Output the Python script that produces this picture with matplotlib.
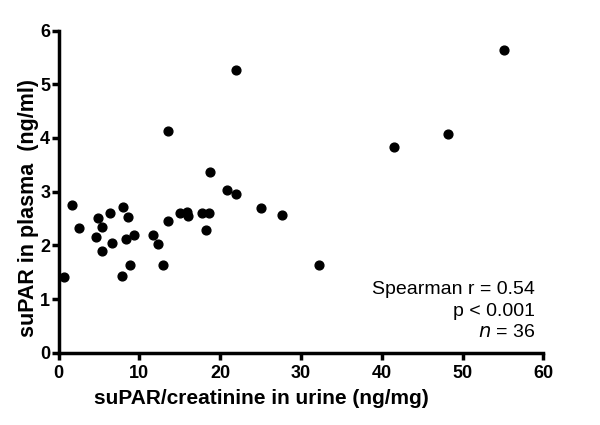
import numpy as np
import matplotlib.pyplot as plt

plt.rcParams['font.family'] = ['Liberation Sans', 'DejaVu Sans']

# suPAR/creatinine in urine (ng/mg)
urine = [0.72, 1.71, 2.5, 4.85, 4.68, 5.35, 5.38, 6.41, 6.58, 7.98, 8.6, 8.39,
         9.38, 7.82, 8.81, 11.73, 12.27, 12.9, 13.6, 15.0, 15.9, 15.98,
         21.93, 13.55, 18.75, 20.85, 22.0, 25.1, 27.7, 17.8, 18.67, 18.25, 32.3,
         55.1, 48.2, 41.56]
# suPAR in plasma (ng/ml)
plasma = [1.415, 2.76, 2.32, 2.51, 2.15, 2.35, 1.90, 2.61, 2.04, 2.72, 2.52, 2.11,
          2.19, 1.43, 1.63, 2.20, 2.02, 1.64, 2.45, 2.60, 2.63, 2.55,
          5.26, 4.13, 3.37, 3.04, 2.95, 2.69, 2.56, 2.60, 2.60, 2.29, 1.63,
          5.64, 4.07, 3.83]

stats_lines = ['Spearman r = 0.54', 'p < 0.001', '$n$ = 36']

fig = plt.figure(figsize=(6, 4.25), dpi=100)
ax = fig.add_axes([0.0975, 0.17, 0.808, 0.758])
ax.scatter(urine, plasma, s=40, color='black', zorder=3, clip_on=False)

ax.set_xlim(0, 60)
ax.set_ylim(0, 6)
ax.set_xticks(np.arange(0, 61, 10))
ax.set_yticks(np.arange(0, 7, 1))
for s in ['top', 'right']:
    ax.spines[s].set_visible(False)
for s in ['left', 'bottom']:
    ax.spines[s].set_linewidth(2.5)
ax.tick_params(width=2.5, length=5, direction='out', labelsize=13)
ax.tick_params(axis='y', pad=1)
for lab in ax.get_xticklabels() + ax.get_yticklabels():
    lab.set_fontweight('bold')

ax.set_xlabel('suPAR/creatinine in urine (ng/mg)', fontsize=15, fontweight='bold')
ax.xaxis.set_label_coords(0.418, -0.114)
ax.set_ylabel('suPAR in plasma  (ng/ml)', fontsize=15.5, fontweight='bold')
ax.yaxis.set_label_coords(-0.04, 0.45)

# stats text, one line at a time
for txt, yy in zip(stats_lines, [1.093, 0.683, 0.292]):
    ax.text(59.0, yy, txt, ha='right', va='baseline', fontsize=14)

fig.savefig('out.png', dpi=100)
